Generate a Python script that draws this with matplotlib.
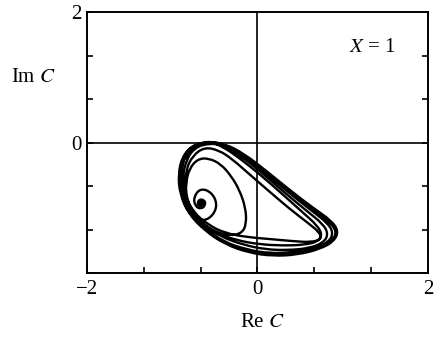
import numpy as np
import matplotlib
matplotlib.use("Agg")
import matplotlib.pyplot as plt
from matplotlib.path import Path
from matplotlib.patches import PathPatch

plt.rcParams['font.family'] = ['Liberation Serif', 'DejaVu Serif']
plt.rcParams['mathtext.fontset'] = 'stix'

# trajectory of C in the complex plane, read as (Re C, Im C) pairs, in time order
spiral_re = [-0.67, -0.67, -0.64, -0.66, -0.70, -0.69, -0.62, -0.61, -0.66, -0.73,
             -0.75, -0.67, -0.54, -0.47, -0.52, -0.64, -0.78, -0.84]
spiral_im = [-0.93, -0.90, -0.92, -0.97, -0.95, -0.87, -0.88, -0.96, -1.02, -0.98,
             -0.84, -0.70, -0.76, -0.94, -1.12, -1.21, -1.13, -0.95]

transient_re = [-0.84, -0.80, -0.70, -0.57, -0.43, -0.31, -0.21, -0.14, -0.13, -0.18,
                -0.33, -0.50, -0.66, -0.79, -0.85, -0.84, -0.76, -0.62]
transient_im = [-0.62, -0.40, -0.25, -0.24, -0.33, -0.51, -0.73, -1.00, -1.24, -1.39,
                -1.43, -1.37, -1.23, -1.01, -0.72, -0.42, -0.20, -0.07]

loop1_re = [-0.45, -0.30, -0.10, 0.13, 0.38, 0.60, 0.73, 0.75, 0.63, 0.40,
            0.15, -0.12, -0.38, -0.58, -0.75, -0.85, -0.88, -0.84, -0.74, -0.57]
loop1_im = [-0.12, -0.25, -0.48, -0.74, -1.02, -1.24, -1.38, -1.48, -1.53, -1.51,
            -1.48, -1.45, -1.39, -1.26, -1.07, -0.82, -0.55, -0.28, -0.08, -0.01]

loop2_re = [-0.40, -0.19, 0.06, 0.32, 0.57, 0.77, 0.83, 0.78, 0.61, 0.36,
            0.10, -0.16, -0.42, -0.64, -0.80, -0.89, -0.91, -0.86, -0.75, -0.56]
loop2_im = [-0.04, -0.21, -0.47, -0.77, -1.04, -1.25, -1.40, -1.53, -1.62, -1.65,
            -1.64, -1.57, -1.45, -1.27, -1.04, -0.76, -0.48, -0.22, -0.05, 0.01]

loop3_re = [-0.38, -0.16, 0.10, 0.38, 0.65, 0.87, 0.95, 0.90, 0.74, 0.47,
            0.18, -0.10, -0.38, -0.62, -0.81, -0.91, -0.93, -0.88, -0.76, -0.57]
loop3_im = [-0.02, -0.17, -0.43, -0.73, -1.00, -1.20, -1.36, -1.51, -1.63, -1.72,
            -1.74, -1.69, -1.56, -1.35, -1.09, -0.79, -0.48, -0.21, -0.04, 0.02]

loop4_re = [-0.39, -0.17, 0.08, 0.35, 0.61, 0.82, 0.89, 0.84, 0.68, 0.43,
            0.14, -0.13, -0.40, -0.63, -0.81, -0.90, -0.92, -0.87, -0.75, -0.56]
loop4_im = [-0.03, -0.19, -0.45, -0.75, -1.02, -1.23, -1.38, -1.52, -1.62, -1.68,
            -1.70, -1.64, -1.52, -1.31, -1.06, -0.77, -0.47, -0.22, -0.05, 0.01]

loop5_re = [-0.41, -0.21, 0.04, 0.30, 0.53, 0.70, 0.76, 0.71, 0.54, 0.29,
            0.02, -0.24, -0.48, -0.68, -0.82, -0.89, -0.90, -0.85, -0.73, -0.55]
loop5_im = [-0.06, -0.24, -0.50, -0.80, -1.07, -1.27, -1.41, -1.52, -1.57, -1.58,
            -1.56, -1.50, -1.39, -1.21, -0.99, -0.72, -0.45, -0.21, -0.05, 0.00]

loop6_re = [-0.39, -0.17, 0.09, 0.37, 0.64, 0.85, 0.93, 0.88, 0.72, 0.45,
            0.16, -0.12, -0.39, -0.62, -0.81, -0.90, -0.92, -0.87, -0.76, -0.57]
loop6_im = [-0.03, -0.19, -0.45, -0.75, -1.02, -1.22, -1.37, -1.50, -1.61, -1.69,
            -1.71, -1.67, -1.54, -1.33, -1.08, -0.78, -0.48, -0.21, -0.04, 0.01]

fixed_point = (-0.67, -0.93)

ticks = [-2, -4/3, -2/3, 0, 2/3, 4/3, 2]
xtick_labels = ['\u22122', '', '', '0', '', '', '2']
ytick_labels = ['', '', '', '0', '', '', '2']

re_c = np.concatenate([spiral_re, transient_re, loop1_re, loop2_re, loop3_re,
                       loop4_re, loop5_re, loop6_re])
im_c = np.concatenate([spiral_im, transient_im, loop1_im, loop2_im, loop3_im,
                       loop4_im, loop5_im, loop6_im])

# smooth curve: quadratic Bezier pieces joined at midpoints of the sample points
pts = np.column_stack([re_c, im_c])
mids = (pts[:-1] + pts[1:]) / 2
verts = [pts[0], mids[0]]
codes = [Path.MOVETO, Path.LINETO]
for i in range(1, len(pts) - 1):
    verts += [pts[i], mids[i]]
    codes += [Path.CURVE3, Path.CURVE3]
verts.append(pts[-1])
codes.append(Path.LINETO)

fig = plt.figure(figsize=(4.38, 3.38), dpi=100)
ax = fig.add_axes([0.1986, 0.1923, 0.7785, 0.772])

ax.axhline(0, color='k', lw=1.2, zorder=1)
ax.axvline(0, color='k', lw=1.2, zorder=1)
ax.add_patch(PathPatch(Path(verts, codes), fill=False, edgecolor='k', lw=1.7,
                       capstyle='round', joinstyle='round', zorder=2))
ax.plot(*fixed_point, 'o', color='k', ms=4.5, zorder=3)

ax.set_xlim(-2, 2)
ax.set_ylim(-2, 2)
ax.set_xticks(ticks)
ax.set_xticklabels(xtick_labels)
ax.set_yticks(ticks)
ax.set_yticklabels(ytick_labels)
ax.tick_params(direction='in', length=4, width=1.2, labelsize=15, right=True)
ax.tick_params(axis='x', pad=5)
ax.tick_params(axis='y', pad=4)
for s in ax.spines.values():
    s.set_linewidth(1.4)

ax.text(0.905, 0.865, '$X$ = 1', transform=ax.transAxes, ha='right', va='center',
        fontsize=15)
fig.text(0.076, 0.77, 'Im $C$', ha='center', va='center', fontsize=15)
fig.text(0.600, 0.047, 'Re $C$', ha='center', va='center', fontsize=15)

fig.savefig('out.png', dpi=100)
